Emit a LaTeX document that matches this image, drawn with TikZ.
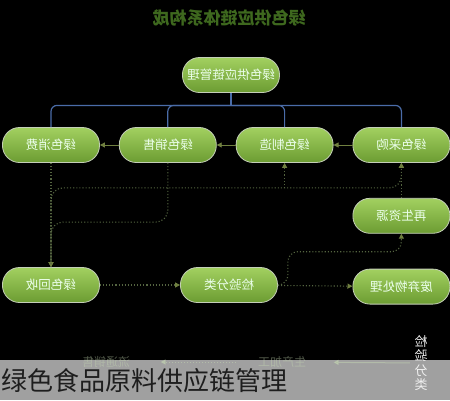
\documentclass[tikz,border=0pt]{standalone}
\usepackage{fontspec}
\usepackage{graphicx}
\usepackage{tikz}
\usetikzlibrary{arrows.meta}
\usetikzlibrary{positioning}
\setmainfont{Noto Sans CJK SC}

\definecolor{pillTop}{RGB}{162,208,96}
\definecolor{pillBot}{RGB}{108,156,50}
\definecolor{pillRim}{RGB}{196,206,184}
\definecolor{treeBlue}{RGB}{74,108,168}
\definecolor{flowDot}{RGB}{84,100,64}
\definecolor{flowTip}{RGB}{112,128,64}
\definecolor{titleGreen}{RGB}{62,104,30}
\definecolor{bandGray}{RGB}{160,160,160}
\definecolor{capText}{RGB}{30,30,30}
\definecolor{ghostText}{RGB}{200,220,180}

\newcommand{\flipped}[1]{\reflectbox{#1}}

\begin{document}
\begin{tikzpicture} [x=1pt, y=-1pt,
		pill/.style={rectangle, rounded corners=17pt, minimum width=97pt, minimum height=35pt,
			top color=pillTop, bottom color=pillBot, draw=pillRim, line width=0.8pt,
			text=white!92!green, font=\fontsize{12.5}{14}\selectfont},
		tree/.style={treeBlue, line width=1.2pt, rounded corners=6pt},
		link/.style={flowTip, line width=0.9pt, -{Triangle[length=5pt,width=5pt]}},
		flow/.style={flowDot, dotted, line width=1.1pt, rounded corners=12pt,
			-{Triangle[length=5pt,width=5pt,color=flowTip]}},
		ghost/.style={text=ghostText, text opacity=0.4, font=\fontsize{12}{14}\selectfont},
		ghostlink/.style={ghostText, opacity=0.45, line width=1pt, -{Triangle[length=5pt,width=5pt]}},
		node distance = 35pt and 19pt]
		
		% canvas
		\useasboundingbox (0,0) rectangle (450,400);
		\fill[black] (0,0) rectangle (450,400);
		
		% title
		\node[font=\fontsize{17}{20}\selectfont\bfseries, text=titleGreen] (title) at (229,18) {\flipped{绿色供应链体系构成}};
		
		% node positions
		\node[pill] (chain) at (231,75) {\flipped{绿色供应链管理}};
		\node[pill] (consume) at (51,145) {\flipped{绿色消费}};
		\node[pill, right = of consume] (sell) {\flipped{绿色销售}};
		\node[pill, right = of sell] (make) {\flipped{绿色制造}};
		\node[pill, right = of make] (buy) {\flipped{绿色采购}};
		\node[pill, below = of buy] (renew) {\flipped{再生资源}};
		\node[pill, below = of renew] (waste) {\flipped{废弃物处理}};
		\node[pill] (recycle) at (51,285) {\flipped{绿色回收}};
		\node[pill] (sort) at (229,285) {\flipped{检验分类}};
		
		% tree
		\coordinate (hub) at ([yshift=-12.5pt]chain.south);
		\draw[tree] (chain.south) -- (hub);
		\foreach \name in {consume, sell, make, buy}
		\draw[tree] (hub) -| (\name.north);
		
		% flow along the row
		\draw[link] (buy) -- (make);
		\draw[link] (make) -- (sell);
		\draw[link] (sell) -- (consume);
		
		% dotted flows
		\coordinate (jmake) at ([yshift=-25pt]make.south);
		\draw[flow] (consume) -- (recycle);
		\draw[flow] (sell.south) |- ([yshift=45pt]recycle.north) -- (recycle.north);
		\draw[flow] (recycle.north) |- ([yshift=-25pt]buy.south) -- (buy.south);
		\draw[flow] (jmake) -- (make.south);
		\draw[flow] (renew) -- (buy);
		\draw[flow] (recycle) -- (sort);
		\draw[flow] (sort) -- (waste);
		\draw[flow, rounded corners=10pt] (sort.east) -- ++(10,0) |- ([yshift=-18pt]renew.south) -- (renew.south);
		
		% band below
		\fill[bandGray] (0,360) rectangle (450,400);
		\node[ghost] (ghostsale) at (106,362) {\flipped{流通销售}};
		\node[ghost] (ghostmake) at (282,362) {\flipped{生产加工}};
		\node[align=center, text=white!88!gray, font=\fontsize{13}{14.5}\selectfont] (sidecheck) at (421,363)
			{\flipped{检}\\\flipped{验}\\\flipped{分}\\\flipped{类}};
		\draw[ghostlink, dotted, shorten >=27pt, shorten <=18pt] (ghostmake) -- (ghostsale);
		\draw[ghostlink, shorten >=24pt, shorten <=1pt] (sidecheck) -- (ghostmake);
		\node[anchor=west, inner sep=0pt, text=capText, font=\fontsize{26}{28}\selectfont] (caption) at (1,381) {绿色食品原料供应链管理};
		
	\end{tikzpicture}
\end{document}
